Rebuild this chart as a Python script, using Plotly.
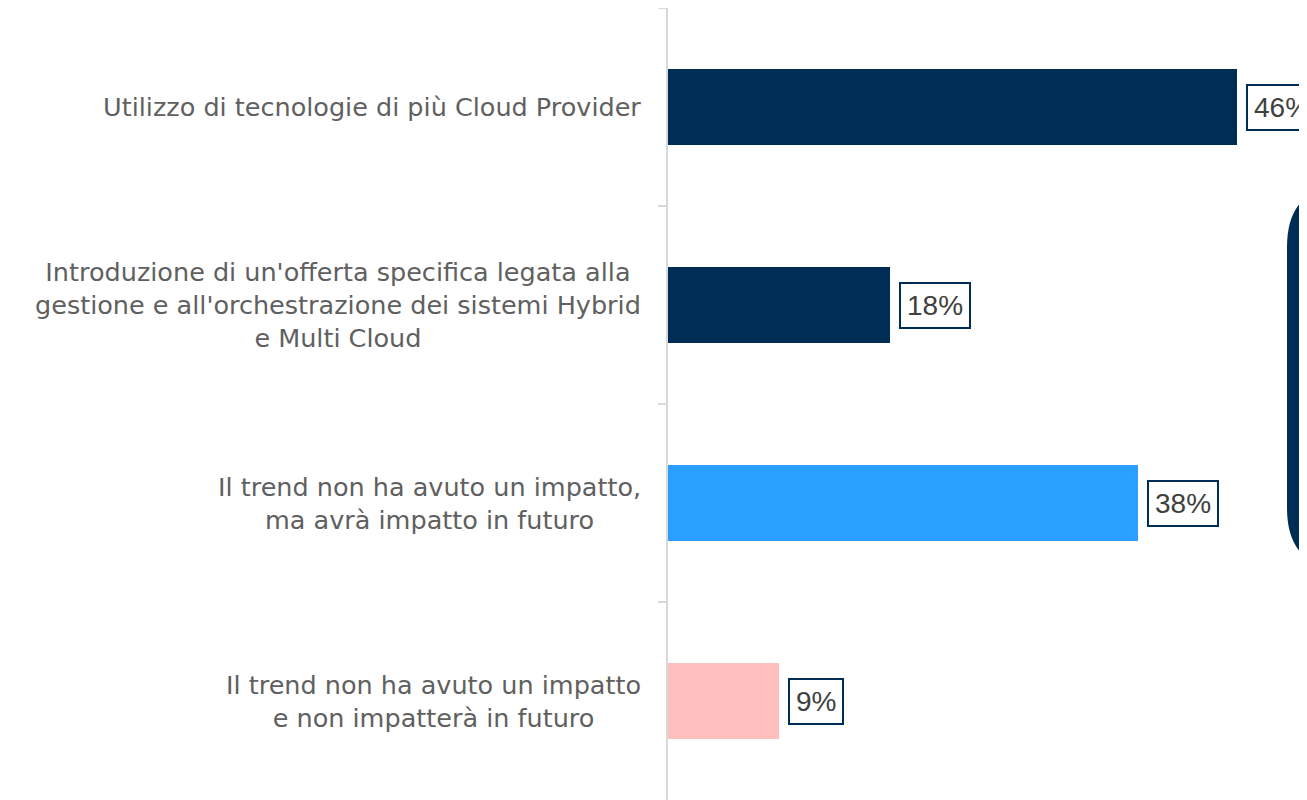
import plotly.graph_objects as go

categories = [
    "Utilizzo di tecnologie di più Cloud Provider",
    "Introduzione di un'offerta specifica legata alla<br>gestione e all'orchestrazione dei sistemi Hybrid<br>e Multi Cloud",
    "Il trend non ha avuto un impatto,<br>ma avrà impatto in futuro",
    "Il trend non ha avuto un impatto<br>e non impatterà in futuro",
]
values = [46, 18, 38, 9]
value_labels = ["46%", "18%", "38%", "9%"]
colors = ["#002D55", "#002D55", "#2B9FFF", "#FFBFBD"]

# page has an 8px body margin, so the figure is 8px smaller than the window
OFF = 8
W, H = 1299, 792
ML, MR, MT, MB = 660, 0, 0, 0
xmax = 51.7

fig = go.Figure()
fig.add_trace(go.Bar(
    y=list(range(len(categories))),
    x=values,
    orientation="h",
    marker=dict(color=colors, line=dict(width=0)),
    width=0.38,
    hoverinfo="skip",
))

annotations = []
for i, cat in enumerate(categories):
    annotations.append(dict(
        xref="paper", yref="y", x=0, y=i, text=cat,
        xanchor="right", yanchor="middle", align="center", xshift=-25,
        showarrow=False,
        font=dict(family="DejaVu Sans", size=25.5, color="#606060"),
    ))
    annotations.append(dict(
        xref="x", yref="y", x=values[i], y=i, text=value_labels[i],
        xanchor="left", yanchor="middle", xshift=9,
        showarrow=False,
        bordercolor="#002D55", borderwidth=2, borderpad=6, bgcolor="white",
        font=dict(family="Liberation Sans Narrow, Liberation Sans, sans-serif", size=28, color="#404040"),
    ))

# rounded callout panel at the right edge (partially off-canvas); coords in page pixels
pw = W - ML - MR
ph = H - MT - MB
def px(x):
    return (x - OFF - ML) / pw
def py(y):
    return (H - MB - (y - OFF)) / ph
left, top, bottom, right, r = 1287, 185, 570, 1420, 62
path = (
    f"M {px(right)},{py(top)} L {px(left + r)},{py(top)} "
    f"Q {px(left)},{py(top)} {px(left)},{py(top + r)} "
    f"L {px(left)},{py(bottom - r)} "
    f"Q {px(left)},{py(bottom)} {px(left + r)},{py(bottom)} "
    f"L {px(right)},{py(bottom)} Z"
)

fig.update_layout(
    width=W, height=H,
    margin=dict(l=ML, r=MR, t=MT, b=MB),
    plot_bgcolor="white", paper_bgcolor="white",
    showlegend=False,
    bargap=0,
    annotations=annotations,
    shapes=[dict(type="path", xref="paper", yref="paper", path=path,
                 fillcolor="#002D55", line=dict(width=0), layer="above")],
    xaxis=dict(range=[0, xmax], visible=False, fixedrange=True),
    yaxis=dict(
        type="category",
        autorange="reversed",
        showticklabels=False,
        showline=True, linecolor="#D9D9D9", linewidth=2,
        ticks="outside", tickson="boundaries", ticklen=8, tickcolor="#D9D9D9", tickwidth=2,
        showgrid=False, zeroline=False, fixedrange=True,
    ),
)

fig.write_html("out.html")
